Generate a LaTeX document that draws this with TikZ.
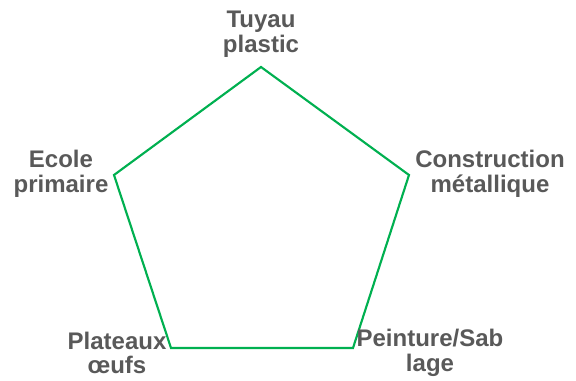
\documentclass[tikz,border=0pt]{standalone}
\usepackage{fontspec}
\setmainfont{Liberation Sans}
\begin{document}
\definecolor{labelgray}{HTML}{595959}
\definecolor{linegreen}{HTML}{00B050}
\begin{tikzpicture}[x=0.75pt,y=-0.75pt,
  lbl/.style={align=center,text=labelgray,font=\fontsize{18}{18.5}\selectfont\bfseries,inner sep=0pt},
  edge/.style={draw=linegreen,line width=1.6pt,line join=miter}]
\useasboundingbox (0,0) rectangle (576,381);
% pentagon corners
\coordinate (top) at (261,67);
\coordinate (right) at (409,175);
\coordinate (bright) at (353,348);
\coordinate (bleft) at (171,348);
\coordinate (left) at (114,175);
\draw[edge] (top) -- (right) -- (bright) -- (bleft) -- (left) -- cycle;
% labels
\node[lbl] (tuyau) at (261,34) {Tuyau\\plastic};
\node[lbl] (ecole) at (61,174) {Ecole\\primaire};
\node[lbl] (constr) at (490,174) {Construction\\métallique};
\node[lbl] (plat) at (117,353) {Plateaux\\œufs};
\node[lbl] (peint) at (430,353) {Peinture/Sab\\lage};
\end{tikzpicture}
\end{document}
